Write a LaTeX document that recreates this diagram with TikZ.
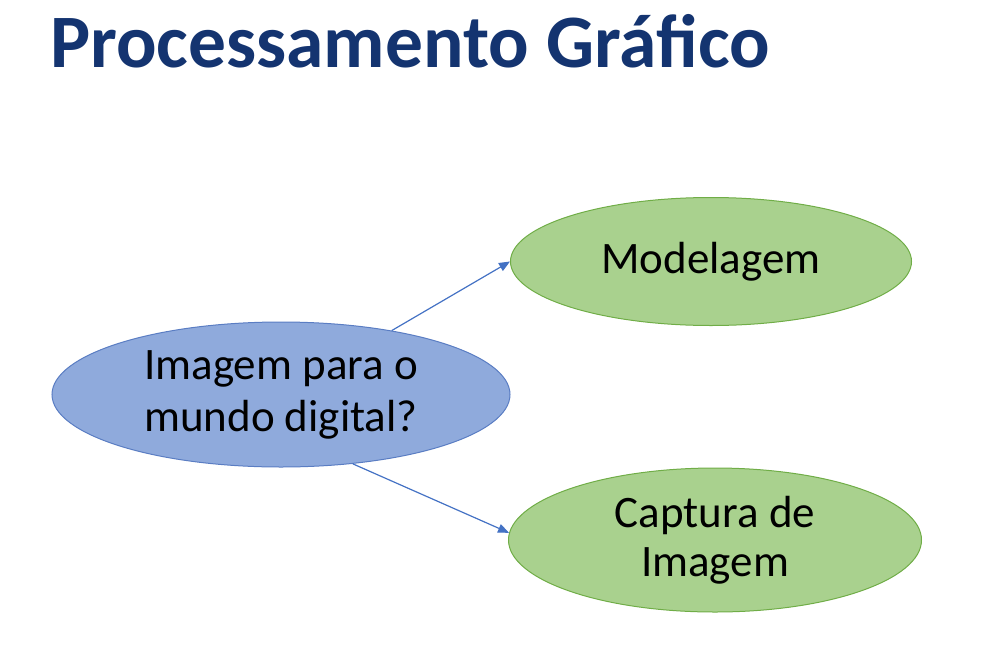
\documentclass[tikz,border=0pt]{standalone}
\usepackage{fontspec}
\setmainfont{Carlito}
\usetikzlibrary{positioning, shapes.geometric, arrows.meta}
\definecolor{titleblue}{RGB}{20,52,112}
\definecolor{blobblue}{RGB}{143,170,220}
\definecolor{blobblueline}{RGB}{90,125,195}
\definecolor{blobgreen}{RGB}{169,209,142}
\definecolor{blobgreenline}{RGB}{112,173,71}
\definecolor{arrowblue}{RGB}{68,114,196}
\tikzset{
    blob/.style={ellipse, inner sep=0pt, align=center, text=black,
        font=\fontsize{45}{52}\selectfont, line width=1pt},
    bluebl/.style={blob, draw=blobblueline, fill=blobblue},
    greenbl/.style={blob, draw=blobgreenline, fill=blobgreen},
    link/.style={draw=arrowblue, line width=1.2pt,
        -{Triangle[length=11pt,width=9pt]}}
}
\begin{document}
\begin{tikzpicture}[x=1pt, y=-1pt]
            \useasboundingbox (0, 0) rectangle (992, 656);
            \node[anchor=base west, inner sep=0pt, text=titleblue,
                font=\fontsize{75.5}{80}\selectfont\bfseries] (title) at (50, 67) {Processamento Gráfico};

            \node[bluebl, minimum width=458pt, minimum height=145pt] (question) at (281, 394.5) {Imagem para o\\mundo digital?};
            \node[greenbl, minimum width=401pt, minimum height=128pt] (model) at (711, 261.5) {Modelagem};
            \node[greenbl, minimum width=413pt, minimum height=144pt,
                font=\fontsize{45}{49}\selectfont] (capture) at (715, 540) {Captura de\\Imagem};

            \draw [link] (question.30) -- (model.west);
            \draw [link] (question.-44) -- (capture.178);
        \end{tikzpicture}
\end{document}
